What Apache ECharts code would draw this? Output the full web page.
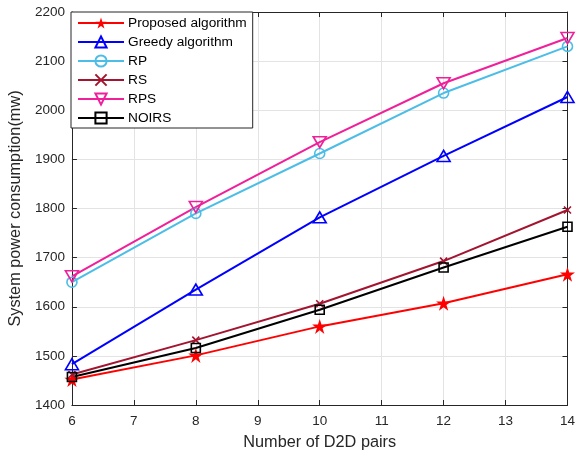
<!DOCTYPE html>
<html><head><meta charset="utf-8">
<script src="https://cdn.jsdelivr.net/npm/echarts@6/dist/echarts.min.js"></script>
<style>html,body{margin:0;padding:0;background:#fff}#c{width:578px;height:456px}</style>
</head><body><div id="c"></div>
<script>
const xValues = [6, 8, 10, 12, 14];
const proposed = [1452, 1501, 1560, 1607, 1666];
const greedy = [1483, 1635, 1782, 1907, 2027];
const rp = [1650, 1790, 1912, 2035, 2130];
const rs = [1462, 1532, 1606, 1693, 1797];
const rps = [1662, 1803, 1935, 2055, 2147];
const noirs = [1457, 1516, 1594, 1680, 1763];
const names = ['Proposed algorithm', 'Greedy algorithm', 'RP', 'RS', 'RPS', 'NOIRS'];

const STAR = 'path://M50,0L61.8,35.3L100,35.3L69.1,57.1L80.9,92.6L50,70.7L19.1,92.6L30.9,57.1L0,35.3L38.2,35.3Z';
const TRI = 'path://M50,0L100,87L0,87Z';
const ITRI = 'path://M0,0L100,0L50,87Z';
const XMARK = 'path://M0,0L100,100M100,0L0,100';
const CIRC = 'circle';
const SQ = 'rect';

const font = 'Liberation Sans, Arial, sans-serif';
function mk(name, data, color, symbol, size, filled) {
  return {
    name: name, type: 'line', data: xValues.map((x, i) => [x, data[i]]),
    symbol: symbol, symbolSize: size, showSymbol: true,
    lineStyle: { color: color, width: 2 },
    itemStyle: { color: filled ? color : 'rgba(0,0,0,0)', borderColor: color, borderWidth: filled ? 0 : 1.6 },
    emphasis: { disabled: true }, z: 3
  };
}
const series = [
  mk(names[0], proposed, '#ff0000', STAR, 15, true),
  mk(names[1], greedy, '#0000ff', TRI, [13, 11], false),
  mk(names[2], rp, '#4cbde6', CIRC, 10, false),
  mk(names[3], rs, '#a2142f', XMARK, 7, false),
  mk(names[4], rps, '#f0209a', ITRI, [13, 11], false),
  mk(names[5], noirs, '#000000', SQ, 9, false)
];
const chart = echarts.init(document.getElementById('c'), null, { renderer: 'canvas' });
const axisLine = { show: true, lineStyle: { color: '#262626', width: 1 } };
chart.setOption({
  animation: false,
  backgroundColor: '#fff',
  textStyle: { fontFamily: font },
  grid: { left: 70, right: 8, top: 12, bottom: 50, containLabel: false },
  legend: {
    data: names, orient: 'vertical', left: 71, top: 12,
    backgroundColor: '#fff', borderColor: '#262626', borderWidth: 1, borderRadius: 0,
    padding: [4, 6, 3, 6], itemGap: 5, itemWidth: 46, itemHeight: 14,
    textStyle: { fontSize: 13.7, color: '#000', fontFamily: font, padding: [0, 0, 0, -1] }
  },
  xAxis: [{
    type: 'value', min: 6, max: 14, interval: 1, position: 'bottom',
    name: 'Number of D2D pairs', nameLocation: 'middle', nameGap: 30,
    nameTextStyle: { fontSize: 16.3, color: '#262626' },
    axisLine: axisLine, axisTick: { inside: true, length: 5, lineStyle: { color: '#262626' } },
    axisLabel: { fontSize: 13.5, color: '#262626', margin: 9 },
    splitLine: { show: true, lineStyle: { color: '#e3e3e3' } }
  }, {
    type: 'value', min: 6, max: 14, interval: 1, position: 'top',
    axisLine: axisLine, axisTick: { inside: true, length: 5, lineStyle: { color: '#262626' } },
    axisLabel: { show: false }, splitLine: { show: false }
  }],
  yAxis: [{
    type: 'value', min: 1400, max: 2200, interval: 100, position: 'left',
    name: 'System power consumption(mw)', nameLocation: 'middle', nameGap: 45,
    nameTextStyle: { fontSize: 16.3, color: '#262626' },
    axisLine: axisLine, axisTick: { inside: true, length: 5, lineStyle: { color: '#262626' } },
    axisLabel: { fontSize: 13.5, color: '#262626', margin: 7, formatter: v => String(v) },
    splitLine: { show: true, lineStyle: { color: '#e3e3e3' } }
  }, {
    type: 'value', min: 1400, max: 2200, interval: 100, position: 'right',
    axisLine: axisLine, axisTick: { inside: true, length: 5, lineStyle: { color: '#262626' } },
    axisLabel: { show: false }, splitLine: { show: false }
  }],
  series: series
});
</script></body></html>
